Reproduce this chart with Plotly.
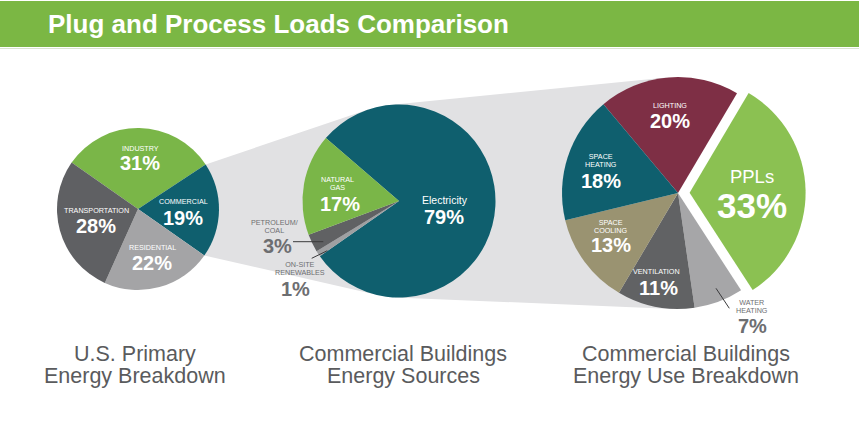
import math
import plotly.graph_objects as go

W, H = 860, 426

# ---------------- data ----------------
title_text = "Plug and Process Loads Comparison"

p1_labels = ["INDUSTRY", "COMMERCIAL", "RESIDENTIAL", "TRANSPORTATION"]
p1_values = [31, 19, 22, 28]

p2_labels = ["Electricity", "ON-SITE\nRENEWABLES", "PETROLEUM/\nCOAL", "NATURAL\nGAS"]
p2_values = [79, 1, 3, 17]

p3_labels = ["LIGHTING", "PPLs", "WATER\nHEATING", "VENTILATION", "SPACE\nCOOLING", "SPACE\nHEATING"]
p3_values = [20, 33, 7, 11, 13, 18]

captions = [["U.S. Primary", "Energy Breakdown"],
            ["Commercial Buildings", "Energy Sources"],
            ["Commercial Buildings", "Energy Use Breakdown"]]

# ---------------- style ----------------
GREEN = "#7AB648"
TEAL = "#0F5F6E"
p1_colors = [GREEN, TEAL, "#A4A4A6", "#5F6063"]
p2_colors = [TEAL, "#9FA0A2", "#606163", GREEN]
p3_colors = ["#7E2F45", "#8BC152", "#A6A6A8", "#616264", "#9A9371", TEAL]
CONNECT = "#E1E1E3"
GRAYTXT = "#6D6E71"
CAPTXT = "#5A5B5D"
FONT = "Liberation Sans, Arial, Helvetica, sans-serif"

# pie geometry in pixels: centre x, centre y, radius, rotation
P1 = dict(cx=138, cy=209, r=81, rot=-55)
P2 = dict(cx=399, cy=201, r=96.5, rot=-49.3)
P3 = dict(cx=678, cy=193, r=116, rot=-40, pull=0.1)

# label layout (pixels): first name-line centre, name line spacing, percent centre
p1_pos = [dict(n=(140, 148), p=(140, 163)),
          dict(n=(183, 202), p=(183, 217.5)),
          dict(n=(152, 248), p=(152, 263)),
          dict(n=(96, 210.5), p=(96, 226))]
p2_pos = [dict(n=(445, 200), p=(443.5, 217), ns=10.5),
          dict(n=(300, 264.3), sp=8.2, p=(295, 288.5), c=GRAYTXT),
          dict(n=(274, 222.6), sp=8, p=(277, 245.5), c=GRAYTXT),
          dict(n=(337.5, 179.8), sp=7.8, p=(340, 203.5))]
p3_pos = [dict(n=(669.5, 105), p=(669.5, 121)),
          dict(n=(748.3, 175.8), p=(752, 205.3), ns=18.5, ps=35, joined=True),
          dict(n=(752.3, 302.7), sp=8, p=(752.3, 325.5), c=GRAYTXT),
          dict(n=(656.7, 271), p=(658.3, 288)),
          dict(n=(610.7, 222.7), sp=8, p=(610.7, 245)),
          dict(n=(600.7, 156), sp=8, p=(600.7, 181))]
leaders = [((293, 241.7), (323.3, 241.7)),
           ((311.7, 258.3), (327.3, 250.7)),
           ((716, 288.3), (729.3, 308.3))]
cap_pos = [(135, 354, 376), (403, 354, 376), (686, 354, 376)]

ASC, DESC, CAPH = 0.905, 0.212, 0.716  # Liberation Sans metrics


def px(x):
    return x / W


def py(y):
    return 1 - y / H


def domain(p):
    half = p["r"] * (1 + p.get("pull", 0))
    return dict(x=[px(p["cx"] - half), px(p["cx"] + half)],
                y=[py(p["cy"] + half), py(p["cy"] - half)])


fig = go.Figure()

fig.add_trace(go.Pie(values=p1_values, labels=p1_labels, sort=False, direction="clockwise",
                     rotation=P1["rot"], textinfo="none", domain=domain(P1),
                     marker=dict(colors=p1_colors, line=dict(width=0))))
fig.add_trace(go.Pie(values=p2_values, labels=p2_labels, sort=False, direction="clockwise",
                     rotation=P2["rot"], textinfo="none", domain=domain(P2),
                     marker=dict(colors=p2_colors, line=dict(width=0))))
fig.add_trace(go.Pie(values=p3_values, labels=p3_labels, sort=False, direction="clockwise",
                     rotation=P3["rot"], textinfo="none", domain=domain(P3),
                     pull=[P3["pull"] if l == "PPLs" else 0 for l in p3_labels],
                     marker=dict(colors=p3_colors, line=dict(width=0))))

shapes = []
# header bar
shapes.append(dict(type="rect", xref="paper", yref="paper", x0=0, x1=px(859), y0=py(47), y1=py(1),
                   fillcolor="#7BB744", line=dict(width=0), layer="below"))
shapes.append(dict(type="line", xref="paper", yref="paper", x0=0, x1=px(859), y0=py(48.5), y1=py(48.5),
                   line=dict(color="#D9E4CF", width=1), layer="below"))


def slice_edges(values, rot, name, labels):
    tot = sum(values)
    a = rot
    for v, l in zip(values, labels):
        b = a + 360 * v / tot
        if l == name:
            return a, b
        a = b


def on_circle(p, ang):
    t = math.radians(ang)
    return (p["cx"] + p["r"] * math.sin(t), p["cy"] - p["r"] * math.cos(t))


def tangents_from_point(P, c):
    dx, dy = c["cx"] - P[0], c["cy"] - P[1]
    d = math.hypot(dx, dy)
    th = math.atan2(dy, dx)
    a = math.asin(c["r"] / d)
    L = math.sqrt(d * d - c["r"] ** 2)
    t1 = (P[0] + L * math.cos(th - a), P[1] + L * math.sin(th - a))
    t2 = (P[0] + L * math.cos(th + a), P[1] + L * math.sin(th + a))
    return t1, t2


def common_tangents(c1, c2):
    dx, dy = c2["cx"] - c1["cx"], c2["cy"] - c1["cy"]
    d = math.hypot(dx, dy)
    th = math.atan2(dy, dx)
    phi = math.acos((c1["r"] - c2["r"]) / d)
    out = []
    for s in (-1, 1):
        ang = th + s * phi
        out.append(((c1["cx"] + c1["r"] * math.cos(ang), c1["cy"] + c1["r"] * math.sin(ang)),
                    (c2["cx"] + c2["r"] * math.cos(ang), c2["cy"] + c2["r"] * math.sin(ang))))
    return out


def path(points):
    return "M " + " L ".join(f"{px(x):.5f},{py(y):.5f}" for x, y in points) + " Z"


# connector from COMMERCIAL slice to pie 2
a0, a1 = slice_edges(p1_values, P1["rot"], "COMMERCIAL", p1_labels)
e0, e1 = on_circle(P1, a0), on_circle(P1, a1)
t_top, _ = tangents_from_point(e0, P2)
_, t_bot = tangents_from_point(e1, P2)
shapes.append(dict(type="path", xref="paper", yref="paper",
                   path=path([e0, t_top, (P2["cx"], P2["cy"]), t_bot, e1]),
                   fillcolor=CONNECT, line=dict(width=0), layer="below"))
# connector from pie 2 to pie 3
(top1, top2), (bot1, bot2) = common_tangents(P2, P3)
shapes.append(dict(type="path", xref="paper", yref="paper",
                   path=path([top1, top2, bot2, bot1]),
                   fillcolor=CONNECT, line=dict(width=0), layer="below"))

for (x0, y0), (x1, y1) in leaders:
    shapes.append(dict(type="line", xref="paper", yref="paper", x0=px(x0), y0=py(y0), x1=px(x1), y1=py(y1),
                       line=dict(color="#3A3A3C", width=1)))

annotations = []


def ann(text, x, y, size, color, xanchor="center"):
    annotations.append(dict(text=text, x=px(x), y=py(y), xref="paper", yref="paper",
                            showarrow=False, xanchor=xanchor, yanchor="middle",
                            borderpad=0, align="center",
                            font=dict(family=FONT, size=size, color=color)))


def span(t, size, bold=False):
    inner = f"<b>{t}</b>" if bold else t
    return f'<span style="font-size:{size}px">{inner}</span>'


def multiline(lines, sizes, bolds, x, y_first, y_last):
    """one annotation whose line centres fall at y_first .. y_last (equal spacing)"""
    n = len(lines)
    b_first = y_first + CAPH / 2 * sizes[0]
    b_last = y_last + CAPH / 2 * sizes[-1]
    base = (b_last - b_first) / (1.3 * (n - 1))
    top = b_first - ASC * sizes[0]
    bottom = b_last + DESC * sizes[-1]
    txt = "<br>".join(span(l, s, b) for l, s, b in zip(lines, sizes, bolds))
    return txt, base, (top + bottom) / 2


for labels, values, poss in ((p1_labels, p1_values, p1_pos),
                             (p2_labels, p2_values, p2_pos),
                             (p3_labels, p3_values, p3_pos)):
    for lab, v, pos in zip(labels, values, poss):
        col = pos.get("c", "white")
        ns, ps = pos.get("ns", 7.2), pos.get("ps", 20)
        lines = lab.split("\n")
        nx, ny = pos["n"]
        if pos.get("joined"):
            txt, base, yc = multiline([lab, f"{v}%"], [ns, ps], [False, True], nx, ny, pos["p"][1])
            ann(txt, pos["p"][0], yc, base, col)
            continue
        if len(lines) == 1:
            ann(lines[0], nx, ny, ns, col)
        else:
            sp = pos["sp"]
            txt, base, yc = multiline(lines, [ns] * len(lines), [False] * len(lines),
                                      nx, ny, ny + sp * (len(lines) - 1))
            ann(txt, nx, yc, base, col)
        ann(f"<b>{v}%</b>", pos["p"][0], pos["p"][1], ps, col)

ann(f"<b>{title_text}</b>", 47, 24, 26, "white", xanchor="left")

for cap, (x, y1, y2) in zip(captions, cap_pos):
    ann(cap[0], x, y1, 21.5, CAPTXT)
    ann(cap[1], x, y2, 21.5, CAPTXT)

fig.update_layout(width=W, height=H, margin=dict(l=0, r=0, t=0, b=0),
                  paper_bgcolor="white", plot_bgcolor="white", showlegend=False,
                  shapes=shapes, annotations=annotations)

fig.write_html("out.html", config={"displayModeBar": False},
               post_script="document.body.style.margin='0px';document.body.style.overflow='hidden';")
